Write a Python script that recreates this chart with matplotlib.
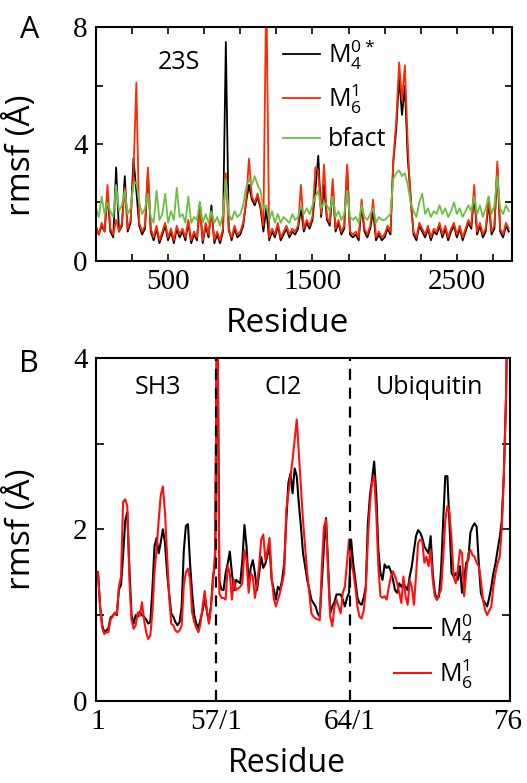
import numpy as np
import matplotlib
matplotlib.use('Agg')
import matplotlib.pyplot as plt

plt.rcParams['font.family'] = 'Open Sans'
plt.rcParams['mathtext.fontset'] = 'custom'
plt.rcParams['mathtext.rm'] = 'Open Sans'
plt.rcParams['mathtext.default'] = 'regular'

# --- panel A: 23S rRNA, one value every 20 residues ---
paso = 20
m6_23s = [1.2, 0.9, 1.3, 1.0, 2.6, 1.1, 0.9, 1.4, 1.0, 1.3,
          2.5, 1.1, 1.4, 3.0, 6.1, 1.3, 1.0, 1.2, 3.2, 1.1,
          0.8, 1.2, 0.7, 1.0, 1.3, 0.8, 1.1, 0.7, 1.2, 0.9,
          1.1, 0.8, 1.4, 0.7, 1.0, 0.8, 1.7, 0.7, 1.3, 0.9,
          1.6, 0.7, 1.0, 0.7, 1.1, 3.0, 1.0, 0.8, 1.2, 0.9,
          1.0, 1.3, 2.0, 3.5, 2.2, 2.0, 2.3, 1.9, 1.2, 9.5,
          0.8, 1.1, 0.9, 1.3, 0.8, 1.0, 1.2, 0.9, 1.1, 1.0,
          1.2, 2.6, 1.1, 1.4, 1.2, 1.5, 3.2, 3.1, 1.6, 3.3,
          1.5, 1.3, 2.8, 1.1, 1.4, 1.0, 1.2, 3.3, 1.0, 0.9,
          1.0, 0.8, 2.1, 1.1, 0.9, 1.2, 2.1, 0.8, 1.0, 0.8,
          0.9, 1.2, 1.0, 3.5, 4.8, 6.8, 5.5, 6.7, 4.0, 2.0,
          1.0, 0.8, 1.3, 1.1, 0.9, 1.2, 0.8, 1.1, 1.0, 1.3,
          0.9, 1.2, 0.8, 1.1, 1.3, 0.9, 1.2, 0.8, 1.1, 1.4,
          1.2, 2.6, 1.0, 1.3, 0.9, 1.1, 2.2, 1.0, 1.2, 3.4, 1.1, 0.9, 1.3, 1.1]
m4_23s = [1.1, 0.9, 1.2, 1.0, 2.3, 1.0, 0.8, 3.2, 1.0, 1.2,
          2.9, 1.0, 1.3, 3.5, 2.4, 1.2, 0.9, 1.1, 3.0, 1.0,
          0.7, 1.1, 0.6, 0.9, 1.2, 0.7, 1.0, 0.6, 1.1, 0.8,
          1.0, 0.7, 1.3, 0.6, 0.9, 0.7, 2.0, 0.6, 1.2, 0.8,
          1.9, 0.6, 0.9, 0.6, 1.0, 7.5, 1.1, 0.7, 1.1, 0.8,
          0.9, 1.2, 2.0, 2.6, 2.1, 1.9, 2.2, 1.8, 1.0, 1.8,
          0.7, 1.0, 0.8, 1.2, 0.7, 0.9, 1.1, 0.8, 1.0, 0.9,
          1.1, 1.8, 1.0, 1.3, 1.1, 1.4, 2.4, 3.6, 1.5, 2.6,
          1.4, 1.2, 2.5, 1.0, 1.3, 0.9, 1.1, 3.2, 0.9, 0.8,
          0.9, 0.7, 1.9, 1.0, 0.8, 1.1, 1.7, 0.7, 0.9, 0.7,
          0.8, 1.1, 0.9, 3.4, 4.5, 6.3, 5.0, 6.0, 3.5, 2.2,
          0.9, 0.7, 1.2, 1.0, 0.8, 1.1, 0.7, 1.0, 0.9, 1.2,
          0.8, 1.1, 0.7, 1.0, 1.2, 0.8, 1.1, 0.7, 1.0, 1.3,
          1.1, 2.3, 0.9, 1.2, 0.8, 1.0, 2.0, 0.9, 1.1, 3.2, 1.0, 0.8, 1.2, 1.0]
bfact_23s = [1.8, 1.5, 2.2, 1.6, 2.0, 1.7, 1.5, 2.6, 1.7, 1.9,
             2.4, 1.6, 1.8, 2.6, 2.7, 2.0, 1.6, 1.8, 2.3, 1.5,
             1.3, 2.4, 1.4, 1.6, 2.3, 1.3, 1.7, 1.4, 2.5, 1.5,
             1.6, 1.3, 2.2, 1.3, 1.5, 1.4, 2.0, 1.3, 1.6, 1.3,
             1.7, 1.3, 1.5, 1.2, 1.6, 2.8, 1.6, 1.4, 1.7, 1.5,
             1.6, 1.9, 2.5, 2.8, 2.6, 2.9, 2.6, 2.4, 1.8, 1.9,
             1.4, 1.7, 1.3, 1.6, 1.3, 1.5, 1.4, 1.3, 1.6, 1.4,
             1.5, 1.9, 1.6, 1.8, 1.6, 1.9, 2.2, 2.4, 1.8, 2.0,
             1.9, 1.7, 2.2, 1.5, 1.7, 1.4, 1.6, 2.4, 1.5, 1.4,
             1.5, 1.3, 1.9, 1.5, 1.4, 1.6, 1.8, 1.3, 1.5, 1.4,
             1.4, 1.5, 1.6, 2.8, 3.0, 3.1, 2.9, 3.0, 2.6, 2.0,
             1.7, 1.5, 2.0, 2.3, 1.6, 1.8, 1.5, 1.7, 1.6, 1.9,
             1.6, 1.8, 1.5, 1.7, 2.0, 1.6, 1.8, 1.5, 1.7, 1.9,
             1.7, 2.2, 1.6, 1.9, 1.5, 1.8, 2.2, 1.6, 1.9, 2.9, 1.8, 1.6, 1.9, 1.7]
res_23s = np.arange(len(m6_23s)) * paso
ticks_23s = [500, 1500, 2500]

# --- panel B: SH3 (57), CI2 (64), ubiquitin (76) ---
sh3_m4 = [1.50, 1.10, 0.88, 0.80, 0.82, 0.85, 0.97, 0.99, 1.02, 1.00,
          1.30, 1.35, 1.70, 2.10, 2.20, 1.55, 1.00, 0.90, 1.00, 0.98,
          1.04, 1.00, 0.98, 0.95, 0.90, 0.92, 1.30, 1.80, 1.90, 1.72,
          1.85, 2.00, 1.85, 1.50, 1.25, 1.02, 0.98, 0.92, 0.88, 0.92,
          1.10, 1.75, 2.04, 2.06, 1.60, 1.25, 1.00, 0.90, 0.85, 0.95,
          1.05, 1.20, 1.05, 0.92, 1.10, 1.45, 1.60]
sh3_m6 = [1.50, 1.10, 0.85, 0.78, 0.80, 0.80, 0.95, 0.98, 1.03, 1.01,
          1.33, 1.45, 2.32, 2.35, 2.27, 1.42, 0.95, 0.84, 0.88, 1.03,
          0.99, 1.15, 0.95, 0.80, 0.72, 0.76, 1.03, 1.50, 1.77, 2.10,
          2.40, 2.50, 2.20, 1.70, 1.22, 0.90, 0.88, 0.82, 0.80, 0.82,
          0.88, 1.34, 1.50, 1.54, 1.42, 1.03, 0.92, 0.85, 0.80, 0.90,
          1.10, 1.28, 1.07, 0.90, 1.10, 1.40, 1.75]
ci2_m4 = [5.00, 1.40, 1.30, 1.29, 1.49, 1.60, 1.74, 1.49, 1.29, 1.41,
          1.39, 1.37, 1.64, 2.05, 1.80, 1.37, 1.55, 1.64, 1.49, 1.29,
          1.49, 1.68, 1.55, 1.60, 1.70, 1.80, 1.41, 1.30, 1.18, 1.33,
          1.29, 1.41, 1.60, 2.10, 2.54, 2.65, 2.42, 2.71, 2.62, 2.30,
          2.03, 1.72, 1.57, 1.41, 1.30, 1.18, 1.14, 1.10, 1.02, 0.98,
          1.40, 1.80, 2.13, 1.57, 1.02, 1.10, 1.15, 1.24, 1.24, 1.24,
          1.18, 1.10, 1.20, 1.26]
ci2_m6 = [5.00, 1.25, 1.20, 1.20, 1.18, 1.57, 1.49, 1.18, 1.41, 1.29,
          1.31, 1.33, 1.37, 1.76, 1.64, 1.26, 1.49, 1.45, 1.20, 1.35,
          1.57, 1.88, 1.94, 1.64, 1.76, 1.90, 1.45, 1.20, 1.10, 1.18,
          1.26, 1.37, 1.49, 2.23, 2.42, 2.60, 2.81, 3.04, 3.28, 2.89,
          2.50, 2.10, 1.80, 1.49, 1.26, 1.02, 0.98, 0.96, 0.95, 0.94,
          1.57, 2.03, 2.11, 1.49, 0.98, 0.87, 1.10, 1.18, 1.10, 1.02,
          1.26, 1.33, 1.60, 1.88]
ubq_m4 = [1.88, 1.60, 1.41, 1.20, 1.14, 1.12, 1.20, 1.33, 2.07, 2.40,
          2.58, 2.79, 2.42, 1.76, 1.49, 1.41, 1.59, 1.55, 1.57, 1.51,
          1.41, 1.29, 1.26, 1.37, 1.33, 1.37, 1.33, 1.29, 1.45, 1.57,
          1.75, 1.92, 1.99, 1.96, 1.90, 1.80, 1.76, 1.72, 1.92, 1.49,
          1.26, 1.18, 1.22, 1.53, 2.10, 2.62, 2.62, 2.07, 1.49, 1.45,
          1.49, 1.41, 1.57, 1.26, 1.41, 1.61, 1.64, 1.96, 2.03, 2.07,
          2.03, 1.61, 1.26, 1.18, 1.14, 1.10, 1.20, 1.33, 1.49, 1.60,
          1.76, 1.90, 2.10, 2.65, 3.50, 5.00]
ubq_m6 = [1.62, 1.50, 1.33, 1.10, 0.98, 0.96, 1.05, 1.30, 1.88, 2.30,
          2.55, 2.62, 2.19, 1.57, 1.22, 1.20, 1.22, 1.18, 1.33, 1.45,
          1.51, 1.45, 1.37, 1.26, 1.14, 1.45, 1.22, 1.12, 1.41, 1.33,
          1.12, 1.45, 1.84, 1.88, 1.86, 1.61, 1.68, 1.57, 1.76, 1.41,
          1.22, 1.18, 1.25, 1.29, 1.68, 2.11, 2.27, 2.20, 1.88, 1.45,
          1.37, 1.53, 1.76, 1.72, 1.22, 1.49, 1.72, 1.76, 1.70, 1.68,
          1.61, 1.57, 1.41, 1.18, 1.06, 1.00, 1.05, 1.10, 1.33, 1.49,
          1.60, 1.68, 2.00, 2.65, 3.50, 5.00]
prot_names = ['SH3', 'CI2', 'Ubiquitin']
tick_labels_b = ['1', '57/1', '64/1', '76']

m4_b = np.concatenate([sh3_m4, ci2_m4, ubq_m4])
m6_b = np.concatenate([sh3_m6, ci2_m6, ubq_m6])
res_b = np.arange(1, len(m6_b) + 1)
limites = [len(sh3_m6) + 0.5, len(sh3_m6) + len(ci2_m6) + 0.5]
centros = [len(sh3_m6) / 2 + 1, (limites[0] + limites[1]) / 2, (limites[1] + len(m6_b)) / 2]

fig = plt.figure(figsize=(5.27, 7.83), dpi=100)

# ---------- A ----------
axA = fig.add_axes([0.182, 0.667, 0.789, 0.298])
axA.plot(res_23s, m4_23s, color='black', lw=1.3, label='M$_4^{0*}$')
axA.plot(res_23s, m6_23s, color='#ff2a00', lw=1.3, label='M$_6^1$')
axA.plot(res_23s, bfact_23s, color='#6cbf45', lw=1.3, label='bfact')
axA.set_xlim(0, 2880)
axA.set_ylim(0, 8)
xt = np.arange(0, 2880, 250)
axA.set_xticks(xt)
axA.set_xticklabels([str(t) if t in ticks_23s else '' for t in xt])
axA.set_yticks([0, 2, 4, 6, 8])
axA.set_yticklabels(['0', '', '4', '', '8'])
axA.text(0.20, 0.85, '23S', transform=axA.transAxes, ha='center', va='center', fontsize=18)
axA.legend(loc='upper left', bbox_to_anchor=(0.425, 1.0), frameon=False, fontsize=18,
           handlelength=1.5, handletextpad=0.3, labelspacing=0.45, borderaxespad=0)
axA.set_xlabel('Residue', fontsize=24)
axA.set_ylabel('rmsf (Å)', fontsize=24)
axA.xaxis.set_label_coords(0.46, -0.2)
axA.yaxis.set_label_coords(-0.14, 0.45)
fig.text(0.057, 0.962, 'A', fontsize=22, ha='center', va='center')

# ---------- B ----------
axB = fig.add_axes([0.182, 0.105, 0.786, 0.438])
axB.plot(res_b, m4_b, color='black', lw=1.5, label='M$_4^0$')
axB.plot(res_b, m6_b, color='#ff1010', lw=1.5, label='M$_6^1$')
for lim in limites:
    axB.axvline(lim, color='black', lw=1.6, linestyle=(0, (5, 3.5)))
for nombre, c in zip(prot_names, centros):
    axB.text(c, 3.65, nombre, ha='center', va='center', fontsize=18)
axB.set_xlim(0, 198)
axB.set_ylim(0, 4)
axB.set_xticks([1, limites[0], limites[1], len(m6_b)])
axB.set_xticklabels(tick_labels_b)
axB.set_yticks([0, 1, 2, 3, 4])
axB.set_yticklabels(['0', '', '2', '', '4'])
axB.legend(loc='lower right', bbox_to_anchor=(0.935, 0.0), frameon=False, fontsize=18,
           handlelength=1.5, handletextpad=0.3, labelspacing=0.45, borderaxespad=0)
axB.set_xlabel('Residue', fontsize=23)
axB.set_ylabel('rmsf (Å)', fontsize=24)
axB.xaxis.set_label_coords(0.46, -0.135)
axB.yaxis.set_label_coords(-0.14, 0.5)
fig.text(0.055, 0.535, 'B', fontsize=22, ha='center', va='center')

for ax in (axA, axB):
    for s in ax.spines.values():
        s.set_linewidth(1.5)
    ax.tick_params(direction='in', top=True, right=True, length=5, width=1.2,
                   labelsize=21, labelfontfamily='Liberation Serif', pad=6)
axB.tick_params(axis='x', length=0, top=False, pad=6)
axB.tick_params(axis='y', length=6)

fig.savefig('out.png', dpi=100)
